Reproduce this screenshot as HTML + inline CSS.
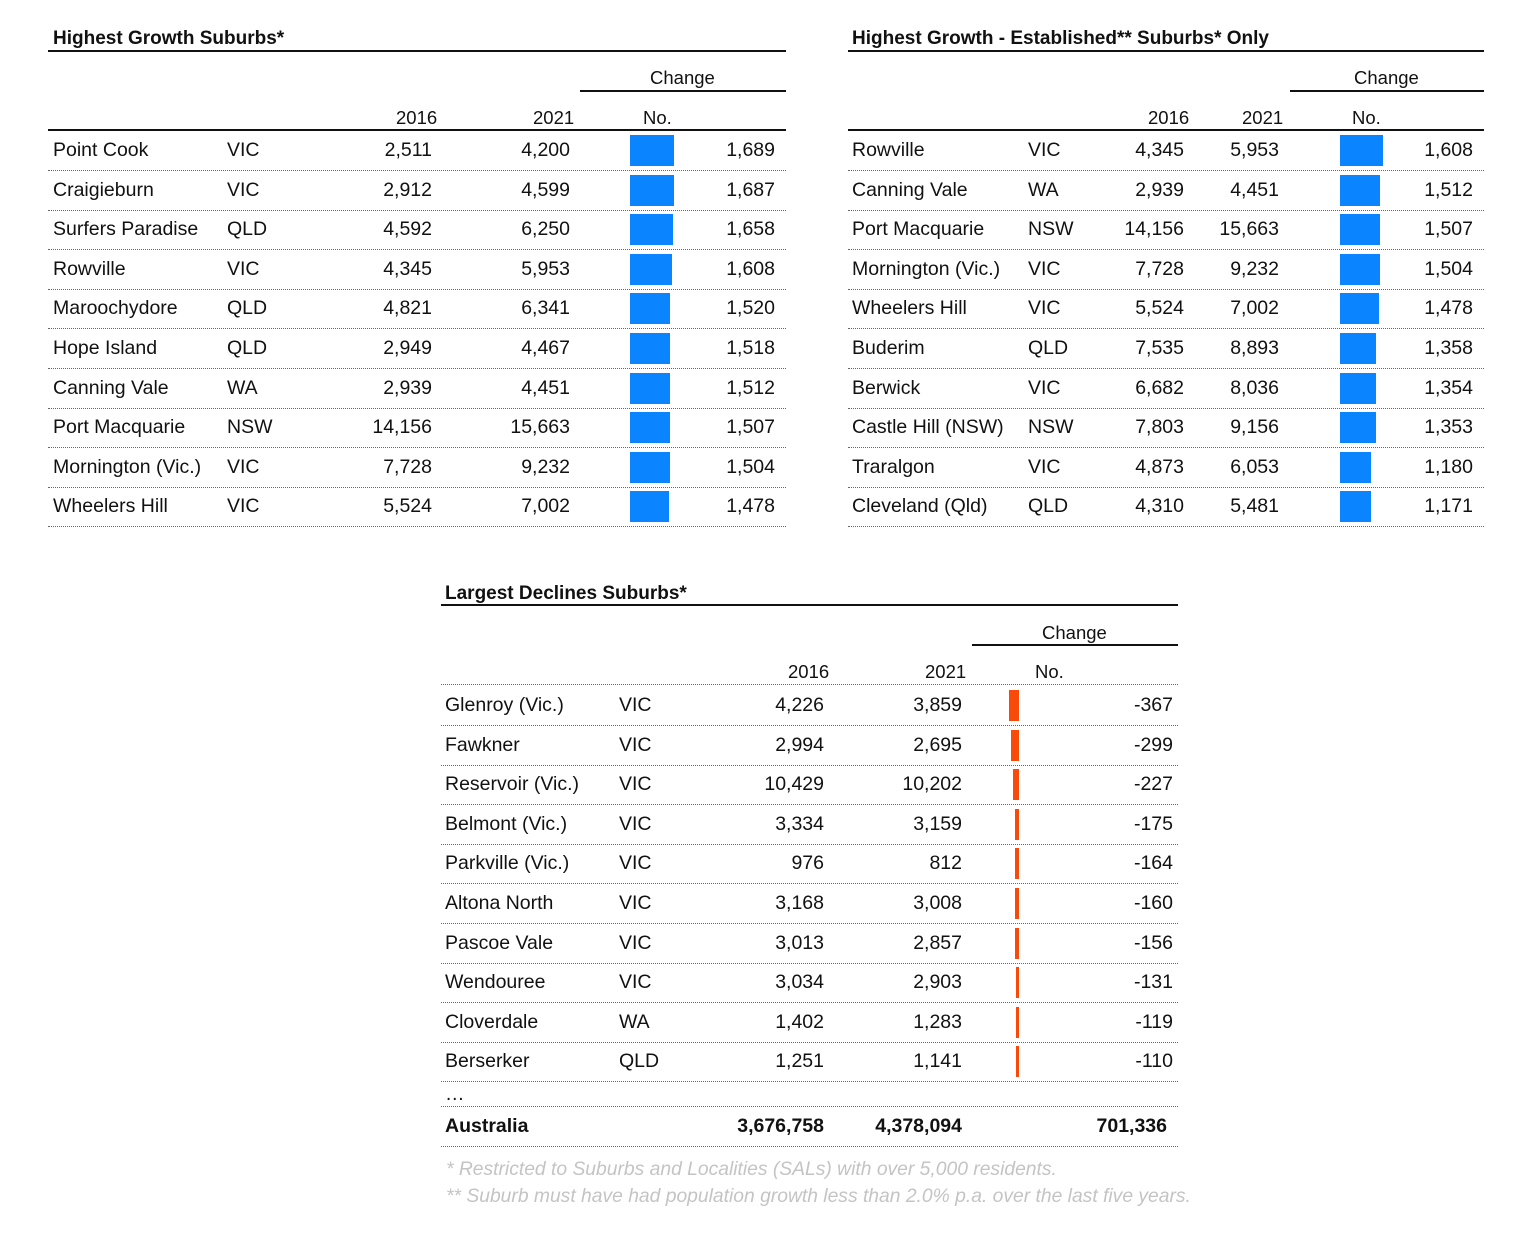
<!DOCTYPE html>
<html><head><meta charset="utf-8"><style>
body{margin:0;width:1536px;height:1239px;background:#fff;position:relative;overflow:hidden;font-family:"Liberation Sans",sans-serif;color:#111}
.a{position:absolute;white-space:nowrap}
.t{font-weight:bold;font-size:19px}
.h{font-size:18.5px}
.line{position:absolute;height:2px;background:#111}
.r{position:absolute;height:39px;border-bottom:1.5px dotted #666;font-size:19.5px;line-height:39px}
.r span{position:absolute;top:0}
.b1{position:absolute;top:4px;height:31px;background:#0a84ff}
.b3{position:absolute;top:4px;height:31px;background:#fa4a0a}
.fn{position:absolute;font-style:italic;color:#c4c4c4;font-size:19.3px;white-space:nowrap}
</style></head><body>

<!-- Table 1 -->
<div class="a t" style="left:53px;top:28px">Highest Growth Suburbs*</div>
<div class="line" style="left:48px;top:50px;width:738px"></div>
<div class="a h" style="left:650px;top:67px">Change</div>
<div class="line" style="left:580px;top:90px;width:206px"></div>
<div class="a h" style="left:396px;top:107px">2016</div>
<div class="a h" style="left:533px;top:107px">2021</div>
<div class="a h" style="left:643px;top:107px">No.</div>
<div class="line" style="left:48px;top:129px;width:738px"></div>

<div style="position:absolute;left:48px;top:131px;width:738px">
<div class="r" style="top:0;width:738px"><span style="left:5px">Point Cook</span><span style="left:179px">VIC</span><span style="right:354px">2,511</span><span style="right:216px">4,200</span><div class="b1" style="left:582px;width:44px"></div><span style="right:11px">1,689</span></div>
<div class="r" style="top:39.6px;width:738px"><span style="left:5px">Craigieburn</span><span style="left:179px">VIC</span><span style="right:354px">2,912</span><span style="right:216px">4,599</span><div class="b1" style="left:582px;width:44px"></div><span style="right:11px">1,687</span></div>
<div class="r" style="top:79.2px;width:738px"><span style="left:5px">Surfers Paradise</span><span style="left:179px">QLD</span><span style="right:354px">4,592</span><span style="right:216px">6,250</span><div class="b1" style="left:582px;width:43px"></div><span style="right:11px">1,658</span></div>
<div class="r" style="top:118.8px;width:738px"><span style="left:5px">Rowville</span><span style="left:179px">VIC</span><span style="right:354px">4,345</span><span style="right:216px">5,953</span><div class="b1" style="left:582px;width:42px"></div><span style="right:11px">1,608</span></div>
<div class="r" style="top:158.4px;width:738px"><span style="left:5px">Maroochydore</span><span style="left:179px">QLD</span><span style="right:354px">4,821</span><span style="right:216px">6,341</span><div class="b1" style="left:582px;width:40px"></div><span style="right:11px">1,520</span></div>
<div class="r" style="top:198px;width:738px"><span style="left:5px">Hope Island</span><span style="left:179px">QLD</span><span style="right:354px">2,949</span><span style="right:216px">4,467</span><div class="b1" style="left:582px;width:40px"></div><span style="right:11px">1,518</span></div>
<div class="r" style="top:237.6px;width:738px"><span style="left:5px">Canning Vale</span><span style="left:179px">WA</span><span style="right:354px">2,939</span><span style="right:216px">4,451</span><div class="b1" style="left:582px;width:40px"></div><span style="right:11px">1,512</span></div>
<div class="r" style="top:277.2px;width:738px"><span style="left:5px">Port Macquarie</span><span style="left:179px">NSW</span><span style="right:354px">14,156</span><span style="right:216px">15,663</span><div class="b1" style="left:582px;width:40px"></div><span style="right:11px">1,507</span></div>
<div class="r" style="top:316.8px;width:738px"><span style="left:5px">Mornington (Vic.)</span><span style="left:179px">VIC</span><span style="right:354px">7,728</span><span style="right:216px">9,232</span><div class="b1" style="left:582px;width:40px"></div><span style="right:11px">1,504</span></div>
<div class="r" style="top:356.4px;width:738px"><span style="left:5px">Wheelers Hill</span><span style="left:179px">VIC</span><span style="right:354px">5,524</span><span style="right:216px">7,002</span><div class="b1" style="left:582px;width:39px"></div><span style="right:11px">1,478</span></div>
</div>

<!-- Table 2 -->
<div class="a t" style="left:852px;top:28px">Highest Growth - Established** Suburbs* Only</div>
<div class="line" style="left:848px;top:50px;width:636px"></div>
<div class="a h" style="left:1354px;top:67px">Change</div>
<div class="line" style="left:1290px;top:90px;width:194px"></div>
<div class="a h" style="left:1148px;top:107px">2016</div>
<div class="a h" style="left:1242px;top:107px">2021</div>
<div class="a h" style="left:1352px;top:107px">No.</div>
<div class="line" style="left:848px;top:129px;width:636px"></div>

<div style="position:absolute;left:848px;top:131px;width:636px">
<div class="r" style="top:0;width:636px"><span style="left:4px">Rowville</span><span style="left:180px">VIC</span><span style="right:300px">4,345</span><span style="right:205px">5,953</span><div class="b1" style="left:492px;width:43px"></div><span style="right:11px">1,608</span></div>
<div class="r" style="top:39.6px;width:636px"><span style="left:4px">Canning Vale</span><span style="left:180px">WA</span><span style="right:300px">2,939</span><span style="right:205px">4,451</span><div class="b1" style="left:492px;width:40px"></div><span style="right:11px">1,512</span></div>
<div class="r" style="top:79.2px;width:636px"><span style="left:4px">Port Macquarie</span><span style="left:180px">NSW</span><span style="right:300px">14,156</span><span style="right:205px">15,663</span><div class="b1" style="left:492px;width:40px"></div><span style="right:11px">1,507</span></div>
<div class="r" style="top:118.8px;width:636px"><span style="left:4px">Mornington (Vic.)</span><span style="left:180px">VIC</span><span style="right:300px">7,728</span><span style="right:205px">9,232</span><div class="b1" style="left:492px;width:40px"></div><span style="right:11px">1,504</span></div>
<div class="r" style="top:158.4px;width:636px"><span style="left:4px">Wheelers Hill</span><span style="left:180px">VIC</span><span style="right:300px">5,524</span><span style="right:205px">7,002</span><div class="b1" style="left:492px;width:39px"></div><span style="right:11px">1,478</span></div>
<div class="r" style="top:198px;width:636px"><span style="left:4px">Buderim</span><span style="left:180px">QLD</span><span style="right:300px">7,535</span><span style="right:205px">8,893</span><div class="b1" style="left:492px;width:36px"></div><span style="right:11px">1,358</span></div>
<div class="r" style="top:237.6px;width:636px"><span style="left:4px">Berwick</span><span style="left:180px">VIC</span><span style="right:300px">6,682</span><span style="right:205px">8,036</span><div class="b1" style="left:492px;width:36px"></div><span style="right:11px">1,354</span></div>
<div class="r" style="top:277.2px;width:636px"><span style="left:4px">Castle Hill (NSW)</span><span style="left:180px">NSW</span><span style="right:300px">7,803</span><span style="right:205px">9,156</span><div class="b1" style="left:492px;width:36px"></div><span style="right:11px">1,353</span></div>
<div class="r" style="top:316.8px;width:636px"><span style="left:4px">Traralgon</span><span style="left:180px">VIC</span><span style="right:300px">4,873</span><span style="right:205px">6,053</span><div class="b1" style="left:492px;width:31px"></div><span style="right:11px">1,180</span></div>
<div class="r" style="top:356.4px;width:636px"><span style="left:4px">Cleveland (Qld)</span><span style="left:180px">QLD</span><span style="right:300px">4,310</span><span style="right:205px">5,481</span><div class="b1" style="left:492px;width:31px"></div><span style="right:11px">1,171</span></div>
</div>

<!-- Table 3 -->
<div class="a t" style="left:445px;top:583px">Largest Declines Suburbs*</div>
<div class="line" style="left:441px;top:604px;width:737px"></div>
<div class="a h" style="left:1042px;top:622px">Change</div>
<div class="line" style="left:972px;top:644px;width:206px"></div>
<div class="a h" style="left:788px;top:661px">2016</div>
<div class="a h" style="left:925px;top:661px">2021</div>
<div class="a h" style="left:1035px;top:661px">No.</div>
<div style="position:absolute;left:441px;top:684px;width:737px;border-top:1.5px dotted #666"></div>

<div style="position:absolute;left:441px;top:686px;width:737px">
<div class="r" style="top:0;width:737px"><span style="left:4px">Glenroy (Vic.)</span><span style="left:178px">VIC</span><span style="right:354px">4,226</span><span style="right:216px">3,859</span><div class="b3" style="right:159px;width:10px"></div><span style="right:5px">-367</span></div>
<div class="r" style="top:39.6px;width:737px"><span style="left:4px">Fawkner</span><span style="left:178px">VIC</span><span style="right:354px">2,994</span><span style="right:216px">2,695</span><div class="b3" style="right:159px;width:8px"></div><span style="right:5px">-299</span></div>
<div class="r" style="top:79.2px;width:737px"><span style="left:4px">Reservoir (Vic.)</span><span style="left:178px">VIC</span><span style="right:354px">10,429</span><span style="right:216px">10,202</span><div class="b3" style="right:159px;width:6px"></div><span style="right:5px">-227</span></div>
<div class="r" style="top:118.8px;width:737px"><span style="left:4px">Belmont (Vic.)</span><span style="left:178px">VIC</span><span style="right:354px">3,334</span><span style="right:216px">3,159</span><div class="b3" style="right:159px;width:4.5px"></div><span style="right:5px">-175</span></div>
<div class="r" style="top:158.4px;width:737px"><span style="left:4px">Parkville (Vic.)</span><span style="left:178px">VIC</span><span style="right:354px">976</span><span style="right:216px">812</span><div class="b3" style="right:159px;width:4px"></div><span style="right:5px">-164</span></div>
<div class="r" style="top:198px;width:737px"><span style="left:4px">Altona North</span><span style="left:178px">VIC</span><span style="right:354px">3,168</span><span style="right:216px">3,008</span><div class="b3" style="right:159px;width:4px"></div><span style="right:5px">-160</span></div>
<div class="r" style="top:237.6px;width:737px"><span style="left:4px">Pascoe Vale</span><span style="left:178px">VIC</span><span style="right:354px">3,013</span><span style="right:216px">2,857</span><div class="b3" style="right:159px;width:4px"></div><span style="right:5px">-156</span></div>
<div class="r" style="top:277.2px;width:737px"><span style="left:4px">Wendouree</span><span style="left:178px">VIC</span><span style="right:354px">3,034</span><span style="right:216px">2,903</span><div class="b3" style="right:159px;width:3.5px"></div><span style="right:5px">-131</span></div>
<div class="r" style="top:316.8px;width:737px"><span style="left:4px">Cloverdale</span><span style="left:178px">WA</span><span style="right:354px">1,402</span><span style="right:216px">1,283</span><div class="b3" style="right:159px;width:3px"></div><span style="right:5px">-119</span></div>
<div class="r" style="top:356.4px;width:737px"><span style="left:4px">Berserker</span><span style="left:178px">QLD</span><span style="right:354px">1,251</span><span style="right:216px">1,141</span><div class="b3" style="right:159px;width:3px"></div><span style="right:5px">-110</span></div>
<div class="r" style="top:396px;height:24px;line-height:24px;width:737px"><span style="left:4px">…</span></div>
<div class="r" style="top:421px;width:737px;font-weight:bold"><span style="left:4px">Australia</span><span style="right:354px">3,676,758</span><span style="right:216px">4,378,094</span><span style="right:11px">701,336</span></div>
</div>

<div class="fn" style="left:446px;top:1159px">* Restricted to Suburbs and Localities (SALs) with over 5,000 residents.</div>
<div class="fn" style="left:446px;top:1186px">** Suburb must have had population growth less than 2.0% p.a. over the last five years.</div>

</body></html>
